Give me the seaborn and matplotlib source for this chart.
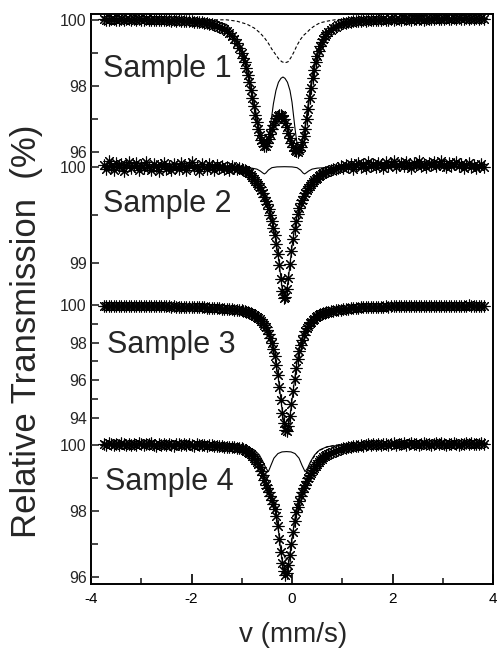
import numpy as np
import pandas as pd
import matplotlib
matplotlib.use("Agg")
import matplotlib.pyplot as plt
from matplotlib.ticker import FixedLocator, MultipleLocator
import seaborn as sns

# ---------------- data ----------------
VEL_LEFT = [-3.75, -3.70, -3.65, -3.60, -3.55, -3.50, -3.45, -3.40, -3.35, -3.30,
            -3.25, -3.20, -3.15, -3.10, -3.05, -3.00, -2.95, -2.90, -2.85, -2.80,
            -2.75, -2.70, -2.65, -2.60, -2.55, -2.50, -2.45, -2.40, -2.35, -2.30,
            -2.25, -2.20, -2.15, -2.10, -2.05, -2.00, -1.95, -1.90, -1.85, -1.80,
            -1.75, -1.70, -1.65, -1.60, -1.55, -1.50, -1.45, -1.40, -1.35, -1.30,
            -1.25, -1.20, -1.15, -1.10, -1.05]
VEL_CENTER = [-1.00, -0.97, -0.94, -0.91, -0.88, -0.85, -0.82, -0.79, -0.76, -0.73,
              -0.70, -0.67, -0.64, -0.61, -0.58, -0.55, -0.52, -0.49, -0.46, -0.43,
              -0.40, -0.37, -0.34, -0.31, -0.28, -0.25, -0.22, -0.19, -0.16, -0.13,
              -0.10, -0.07, -0.04, -0.01, 0.02, 0.05, 0.08, 0.11, 0.14, 0.17,
              0.20, 0.23, 0.26, 0.29, 0.32, 0.35, 0.38, 0.41, 0.44, 0.47,
              0.50, 0.53, 0.56, 0.59, 0.62, 0.65, 0.68]
VEL_RIGHT = [0.72, 0.77, 0.82, 0.87, 0.92, 0.97, 1.02, 1.07, 1.12, 1.17,
             1.22, 1.27, 1.32, 1.37, 1.42, 1.47, 1.52, 1.57, 1.62, 1.67,
             1.72, 1.77, 1.82, 1.87, 1.92, 1.97, 2.02, 2.07, 2.12, 2.17,
             2.22, 2.27, 2.32, 2.37, 2.42, 2.47, 2.52, 2.57, 2.62, 2.67,
             2.72, 2.77, 2.82, 2.87, 2.92, 2.97, 3.02, 3.07, 3.12, 3.17,
             3.22, 3.27, 3.32, 3.37, 3.42, 3.47, 3.52, 3.57, 3.62, 3.67,
             3.72, 3.77, 3.82]

S1_T = ([100.02, 100.0, 99.99, 100.03, 100.01, 100.0, 99.98, 100.02, 100.0, 100.02,
         100.01, 99.99, 100.01, 99.99, 100.02, 100.0, 99.98, 100.01, 99.99, 100.0,
         100.0, 99.98, 99.97, 99.99, 99.98, 99.97, 99.98, 99.96, 99.97, 99.96,
         99.97, 99.95, 99.96, 99.95, 99.95, 99.94, 99.93, 99.93, 99.92, 99.91,
         99.9, 99.89, 99.87, 99.86, 99.84, 99.81, 99.78, 99.74, 99.7, 99.65,
         99.58, 99.5, 99.4, 99.28, 99.15]
        + [99.0, 98.85, 98.7, 98.52, 98.32, 98.1, 97.87, 97.62, 97.37, 97.12,
           96.9, 96.68, 96.5, 96.35, 96.25, 96.18, 96.18, 96.25, 96.38, 96.53,
           96.68, 96.82, 96.94, 97.03, 97.09, 97.12, 97.12, 97.08, 97.0, 96.88,
           96.74, 96.58, 96.42, 96.27, 96.15, 96.06, 96.01, 96.0, 96.05, 96.14,
           96.28, 96.47, 96.7, 96.98, 97.3, 97.62, 97.93, 98.22, 98.48, 98.7,
           98.9, 99.06, 99.2, 99.32, 99.42, 99.5, 99.57]
        + [99.62, 99.68, 99.73, 99.78, 99.82, 99.85, 99.88, 99.9, 99.92, 99.93,
           99.94, 99.95, 99.96, 99.95, 99.97, 99.96, 99.98, 99.97, 99.99, 99.98,
           100.0, 99.98, 100.01, 99.99, 100.0, 100.02, 99.99, 100.01, 100.02, 100.0,
           100.02, 100.01, 100.03, 100.0, 100.02, 100.01, 100.03, 100.02, 100.0, 100.03,
           100.01, 100.03, 100.02, 100.04, 100.01, 100.03, 100.02, 100.04, 100.03, 100.01,
           100.04, 100.02, 100.05, 100.03, 100.02, 100.04, 100.03, 100.05, 100.02, 100.04,
           100.03, 100.05, 100.03])

S2_T = ([100.02, 99.98, 100.06, 100.01, 99.97, 100.04, 100.0, 100.03, 99.96, 100.02,
         100.05, 99.99, 100.01, 100.04, 99.97, 100.02, 99.99, 100.05, 100.0, 99.97,
         100.03, 100.01, 99.96, 100.02, 100.04, 99.98, 100.01, 99.97, 100.03, 100.0,
         99.98, 100.04, 100.01, 99.97, 100.02, 100.05, 99.99, 100.01, 99.96, 100.03,
         100.0, 99.98, 100.03, 100.01, 99.97, 100.02, 99.99, 100.01, 99.98, 100.0,
         99.97, 100.01, 99.99, 99.98, 99.99]
        + [99.98, 99.97, 99.97, 99.96, 99.94, 99.93, 99.91, 99.89, 99.87, 99.85,
           99.83, 99.81, 99.79, 99.76, 99.73, 99.69, 99.65, 99.61, 99.56, 99.5,
           99.44, 99.37, 99.29, 99.2, 99.1, 98.98, 98.84, 98.71, 98.64, 98.65,
           98.73, 98.85, 98.99, 99.13, 99.25, 99.35, 99.44, 99.51, 99.57, 99.62,
           99.66, 99.7, 99.73, 99.76, 99.78, 99.8, 99.82, 99.84, 99.86, 99.87,
           99.88, 99.9, 99.91, 99.92, 99.93, 99.94, 99.95]
        + [99.96, 99.97, 99.98, 99.98, 99.99, 100.01, 99.99, 100.02, 100.0, 100.03,
           99.98, 100.02, 100.04, 100.0, 100.03, 99.99, 100.05, 100.01, 100.03, 100.0,
           100.04, 100.02, 99.99, 100.05, 100.01, 100.03, 100.06, 100.0, 100.02, 100.04,
           100.01, 100.05, 100.02, 99.99, 100.04, 100.02, 100.06, 100.01, 100.03, 100.0,
           100.04, 100.02, 100.05, 100.01, 100.03, 100.06, 100.02, 100.0, 100.04, 100.01,
           100.03, 100.05, 100.01, 100.03, 99.99, 100.02, 100.04, 100.0, 100.02, 99.99,
           100.01, 100.03, 100.0])

S3_T = ([99.97, 99.96, 99.96, 99.97, 99.95, 99.96, 99.97, 99.95, 99.96, 99.96,
         99.95, 99.96, 99.95, 99.96, 99.94, 99.95, 99.96, 99.94, 99.95, 99.94,
         99.95, 99.94, 99.93, 99.94, 99.93, 99.93, 99.94, 99.92, 99.93, 99.92,
         99.92, 99.91, 99.92, 99.91, 99.9, 99.9, 99.89, 99.89, 99.88, 99.88,
         99.87, 99.86, 99.86, 99.85, 99.84, 99.83, 99.82, 99.81, 99.8, 99.79,
         99.78, 99.77, 99.75, 99.74, 99.73]
        + [99.71, 99.69, 99.66, 99.64, 99.61, 99.58, 99.55, 99.51, 99.47, 99.42,
           99.37, 99.3, 99.23, 99.15, 99.05, 98.94, 98.81, 98.65, 98.46, 98.24,
           97.98, 97.65, 97.27, 96.8, 96.26, 95.63, 94.95, 94.27, 93.7, 93.33,
           93.28, 93.54, 94.07, 94.72, 95.41, 96.06, 96.63, 97.12, 97.53, 97.87,
           98.16, 98.4, 98.59, 98.76, 98.9, 99.02, 99.12, 99.21, 99.28, 99.35,
           99.4, 99.45, 99.5, 99.54, 99.57, 99.6, 99.63]
        + [99.65, 99.67, 99.7, 99.72, 99.74, 99.76, 99.78, 99.8, 99.81, 99.83,
           99.84, 99.85, 99.86, 99.87, 99.88, 99.88, 99.89, 99.9, 99.9, 99.91,
           99.91, 99.92, 99.92, 99.93, 99.92, 99.93, 99.94, 99.93, 99.94, 99.94,
           99.95, 99.94, 99.95, 99.94, 99.95, 99.96, 99.95, 99.95, 99.96, 99.95,
           99.96, 99.95, 99.96, 99.97, 99.95, 99.96, 99.96, 99.97, 99.96, 99.95,
           99.97, 99.96, 99.97, 99.96, 99.97, 99.96, 99.98, 99.96, 99.97, 99.97,
           99.96, 99.97, 99.97])

S4_T = ([100.03, 100.0, 100.05, 100.02, 99.99, 100.04, 100.01, 100.06, 100.02, 100.0,
         100.04, 100.01, 100.03, 99.99, 100.05, 100.02, 100.0, 100.04, 100.02, 100.05,
         100.01, 99.98, 100.03, 100.01, 100.04, 100.0, 100.03, 100.01, 99.98, 100.02,
         100.04, 100.0, 100.02, 99.99, 100.03, 100.01, 99.98, 100.02, 100.0, 99.99,
         100.01, 99.98, 100.0, 99.99, 99.97, 99.98, 99.96, 99.97, 99.95, 99.95,
         99.94, 99.93, 99.93, 99.92, 99.91]
        + [99.9, 99.88, 99.86, 99.83, 99.8, 99.76, 99.72, 99.67, 99.61, 99.55,
           99.48, 99.41, 99.33, 99.22, 99.1, 98.95, 98.8, 98.68, 98.56, 98.45,
           98.33, 98.2, 98.05, 97.85, 97.55, 97.15, 96.75, 96.42, 96.18, 96.06,
           96.12, 96.35, 96.65, 97.0, 97.35, 97.7, 97.95, 98.13, 98.3, 98.45,
           98.58, 98.7, 98.8, 98.9, 99.0, 99.08, 99.16, 99.23, 99.3, 99.36,
           99.42, 99.48, 99.53, 99.58, 99.63, 99.67, 99.71]
        + [99.74, 99.77, 99.8, 99.83, 99.86, 99.88, 99.9, 99.92, 99.94, 99.95,
           99.97, 99.96, 99.98, 100.0, 99.98, 100.01, 100.03, 99.99, 100.02, 100.0,
           100.03, 100.01, 100.04, 100.02, 100.0, 100.03, 100.05, 100.01, 100.03, 100.02,
           100.05, 100.01, 100.03, 100.06, 100.02, 100.04, 100.0, 100.03, 100.05, 100.02,
           100.04, 100.01, 100.03, 100.05, 100.02, 100.06, 100.03, 100.01, 100.04, 100.02,
           100.05, 100.03, 100.01, 100.04, 100.02, 100.05, 100.03, 100.06, 100.02, 100.04,
           100.03, 100.05, 100.02])

# fitted sub-spectra
S1_DOUBLET_V = [-3.75, -1.6, -1.3, -1.1, -0.95, -0.85, -0.75, -0.68, -0.62, -0.57,
                -0.52, -0.47, -0.44, -0.41, -0.37, -0.32, -0.27, -0.22, -0.18, -0.14,
                -0.09, -0.04, 0.00, 0.03, 0.06, 0.09, 0.12, 0.15, 0.19, 0.24,
                0.30, 0.37, 0.45, 0.55, 0.68, 0.85, 1.10, 1.5, 3.85]
S1_DOUBLET_T = [100.0, 99.96, 99.85, 99.45, 98.95, 98.25, 97.45, 96.9, 96.45, 96.22,
                96.15, 96.35, 96.7, 97.0, 97.45, 97.85, 98.1, 98.22, 98.26, 98.22,
                98.1, 97.85, 97.5, 97.1, 96.7, 96.35, 96.1, 96.05, 96.2, 96.55,
                97.2, 98.0, 98.75, 99.25, 99.6, 99.82, 99.94, 100.0, 100.0]
S1_SINGLET_V = [-3.75, -1.3, -1.1, -0.9, -0.75, -0.64, -0.55, -0.47, -0.40, -0.33,
                -0.26, -0.20, -0.14, -0.08, -0.02, 0.04, 0.10, 0.17, 0.23, 0.29,
                0.37, 0.46, 0.56, 0.70, 0.89, 3.85]
S1_SINGLET_T = [100.0, 99.99, 99.95, 99.86, 99.74, 99.6, 99.45, 99.28, 99.1, 98.95,
                98.8, 98.72, 98.69, 98.72, 98.85, 99.02, 99.22, 99.4, 99.52, 99.6,
                99.72, 99.82, 99.9, 99.95, 100.0, 100.0]

S2_DOUBLET_V = [-3.75, -0.95, -0.80, -0.70, -0.63, -0.58, -0.55, -0.52, -0.47, -0.40,
                -0.30, -0.15, 0.00, 0.10, 0.17, 0.22, 0.25, 0.28, 0.33, 0.40,
                0.50, 0.65, 3.85]
S2_DOUBLET_T = [99.99, 99.99, 99.985, 99.975, 99.955, 99.935, 99.925, 99.935, 99.965, 99.99,
                99.998, 100.0, 99.998, 99.99, 99.965, 99.935, 99.925, 99.935, 99.955, 99.975,
                99.985, 99.99, 99.99]

S4_DOUBLET_V = [-3.75, -1.2, -0.9, -0.75, -0.65, -0.58, -0.52, -0.47, -0.42, -0.36,
                -0.28, -0.20, -0.11, -0.02, 0.06, 0.14, 0.20, 0.26, 0.31, 0.37,
                0.45, 0.55, 0.70, 1.0, 3.85]
S4_DOUBLET_T = [100.02, 100.0, 99.95, 99.85, 99.7, 99.5, 99.3, 99.19, 99.38, 99.6,
                99.74, 99.79, 99.8, 99.79, 99.74, 99.6, 99.38, 99.19, 99.3, 99.5,
                99.7, 99.85, 99.95, 100.0, 100.02]
S4_SINGLET_V = [-3.75, -1.1, -0.9, -0.75, -0.64, -0.55, -0.47, -0.40, -0.33, -0.27,
                -0.20, -0.12, -0.04, 0.03, 0.09, 0.16, 0.23, 0.31, 0.40, 0.51,
                0.66, 0.86, 3.85]
S4_SINGLET_T = [100.02, 100.0, 99.92, 99.8, 99.55, 99.25, 98.9, 98.55, 98.0, 97.4,
                96.8, 96.5, 96.8, 97.4, 98.0, 98.55, 98.9, 99.25, 99.55, 99.8,
                99.92, 100.0, 100.02]

SAMPLE_NAMES = ["Sample 1", "Sample 2", "Sample 3", "Sample 4"]
Y_MAJOR = [[100, 98, 96], [100, 99], [100, 98, 96, 94], [100, 98, 96]]
Y_MINOR = [[99, 97], [99.5], [99, 97, 95], [99, 97]]
X_TICKS = [-4, -2, 0, 2, 4]
X_LABEL = "v (mm/s)"
Y_LABEL = "Relative Transmission  (%)"

VELOCITY = VEL_LEFT + VEL_CENTER + VEL_RIGHT
SPECTRA = [S1_T, S2_T, S3_T, S4_T]
for s in SPECTRA:
    assert len(s) == len(VELOCITY), len(s)

# ---------------- style / layout ----------------
sns.set_style("white")
plt.rcParams["font.family"] = ["Liberation Sans", "DejaVu Sans"]
plt.rcParams["axes.unicode_minus"] = False

W, H = 497, 650
fig = plt.figure(figsize=(W / 100, H / 100), dpi=100)
L, R, T, B = 91, 493, 14, 584


def px_rect(top, bottom):
    return [L / W, 1 - bottom / H, (R - L) / W, (bottom - top) / H]


frame = fig.add_axes(px_rect(T, B))
frame.set_facecolor("white")
frame.set_xlim(-4, 4)
frame.set_ylim(0, 1)
frame.set_yticks([])
frame.xaxis.set_major_locator(FixedLocator(X_TICKS))
frame.xaxis.set_minor_locator(MultipleLocator(1))
frame.xaxis.set_major_formatter(plt.FuncFormatter(lambda v, p: f"{v:g}"))
frame.tick_params(axis="x", which="major", direction="in", length=7, width=1.2,
                  labelsize=11, pad=6, bottom=True, top=False, colors="black")
frame.tick_params(axis="x", which="minor", direction="in", length=4, width=1.2,
                  bottom=True, top=False)
for sp in frame.spines.values():
    sp.set_visible(True)
    sp.set_color("black")
    sp.set_linewidth(1.4)

# (ref value a, px a, ref value b, px b, top px, bottom px)
PANEL_GEOM = [
    (100, 19.5, 96, 151.7, 14, 162),
    (100, 166.7, 99, 263.3, 152, 308),
    (100, 305.0, 94, 417.7, 292, 440),
    (100, 445.0, 96, 576.7, 432, 584),
]
LABEL_PX = [(103, 77), (103, 212), (107, 353), (105, 490)]

MARKER_KW = dict(marker=(8, 2, 0), markersize=8.5, markeredgecolor="black",
                 markeredgewidth=0.8)

axes = []
for i, (va, pa, vb, pb, top, bot) in enumerate(PANEL_GEOM):
    scale = (pb - pa) / (va - vb)
    ax = fig.add_axes(px_rect(top, bot))
    ax.patch.set_alpha(0)
    ax.set_xlim(-4, 4)
    ax.set_ylim(va - (bot - pa) / scale, va - (top - pa) / scale)
    for sp in ax.spines.values():
        sp.set_visible(False)
    ax.yaxis.set_major_locator(FixedLocator(Y_MAJOR[i]))
    ax.yaxis.set_minor_locator(FixedLocator(Y_MINOR[i]))
    ax.yaxis.set_major_formatter(plt.FuncFormatter(lambda v, p: f"{v:g}"))
    ax.tick_params(axis="y", which="major", direction="in", length=6, width=1.2,
                   labelsize=11.5, pad=3, left=True, right=False)
    ax.tick_params(axis="y", which="minor", direction="in", length=5, width=1.2,
                   left=True, right=False)
    axes.append(ax)

    df = pd.DataFrame({"v": VELOCITY, "t": SPECTRA[i]})
    sns.lineplot(data=df, x="v", y="t", ax=ax, color="black", linewidth=0.8,
                 estimator=None, errorbar=None, sort=True, **MARKER_KW)
    fig.text(LABEL_PX[i][0] / W, 1 - LABEL_PX[i][1] / H, SAMPLE_NAMES[i],
             fontsize=22, ha="left", va="baseline")

# sub-spectra
sns.lineplot(x=S1_DOUBLET_V, y=S1_DOUBLET_T, ax=axes[0], color="black", linewidth=0.8,
             estimator=None, errorbar=None)
sns.lineplot(x=S1_SINGLET_V, y=S1_SINGLET_T, ax=axes[0], color="black", linewidth=0.8,
             linestyle=(0, (3, 2)), estimator=None, errorbar=None)
sns.lineplot(x=S2_DOUBLET_V, y=S2_DOUBLET_T, ax=axes[1], color="black", linewidth=0.8,
             estimator=None, errorbar=None)
sns.lineplot(x=S4_DOUBLET_V, y=S4_DOUBLET_T, ax=axes[3], color="black", linewidth=0.8,
             estimator=None, errorbar=None)
sns.lineplot(x=S4_SINGLET_V, y=S4_SINGLET_T, ax=axes[3], color="black", linewidth=0.8,
             linestyle=(0, (3, 2)), estimator=None, errorbar=None)
for ax in axes:
    ax.set_xlabel("")
    ax.set_ylabel("")
    ax.set_xticks([])
    lg = ax.get_legend()
    if lg is not None:
        lg.remove()

fig.text(27 / W, 1 - 331 / H, Y_LABEL, rotation=90, fontsize=25,
         ha="center", va="center")
fig.text(293 / W, 1 - 635 / H, X_LABEL, fontsize=20, ha="center", va="center")

fig.savefig("out.png", dpi=100)
